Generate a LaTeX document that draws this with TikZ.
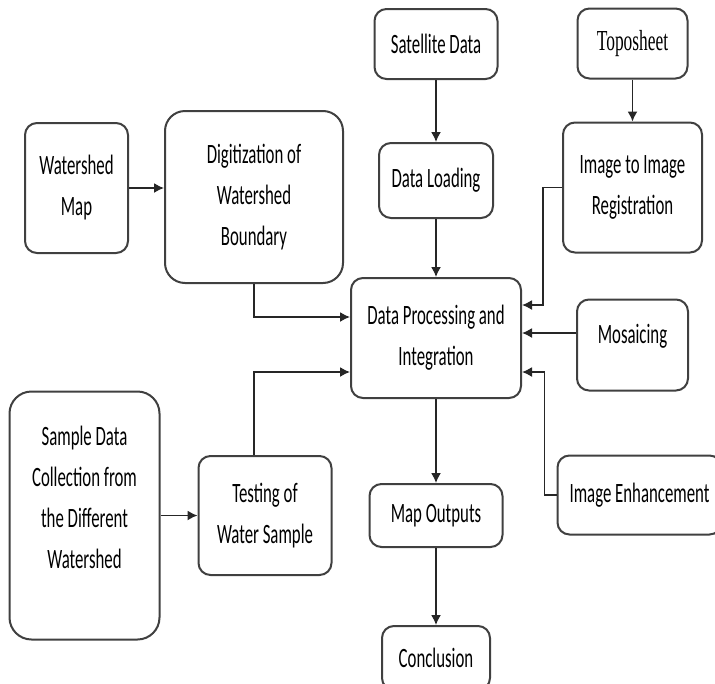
\documentclass[tikz,border=0pt]{standalone}
\usepackage{fontspec}
\setmainfont{Carlito}[FakeStretch=0.6]
\newfontfamily\toposerif{Liberation Serif}[FakeStretch=0.6]
\usepackage{tikz}
\usetikzlibrary{positioning}
\usetikzlibrary{arrows.meta}

\begin{document}
\begin{tikzpicture}[x=1pt,y=1pt,>={Latex[length=10pt,width=10pt]},
	block/.style={draw=black!75, line width=2pt, rounded corners=12pt, fill=white,
		align=center, inner sep=0pt, font=\fontsize{28}{41}\selectfont},
	flow/.style={->, line width=1.5pt, black!85}]

		\useasboundingbox (0,0) rectangle (715,-683);
		\clip (0,0) rectangle (715,-683);

		% processing column
		\node (dp) [block, minimum width=170pt, minimum height=120pt] at (436,-338) {Data Processing and\\Integration};
		\node (load) [block, minimum width=114pt, minimum height=75pt, above = 58pt of dp] {Data Loading};
		\node (sat) [block, minimum width=123pt, minimum height=70pt, above = 62pt of load] {Satellite Data};
		\node (out) [block, minimum width=133pt, minimum height=63pt, below = 84pt of dp] {Map Outputs};
		\node (concl) [block, minimum width=108pt, minimum height=64pt, below = 77pt of out] {Conclusion};

		% image side
		\node (mos) [block, minimum width=111pt, minimum height=91pt, right = 54pt of dp, yshift=-7pt] {Mosaicing\\[-18pt]\mbox{}};
		\node (reg) [block, minimum width=139pt, minimum height=130pt, above = 45pt of mos] {Image to Image\\Registration};
		\node (topo) [block, minimum width=110pt, minimum height=70pt, above = 42pt of reg,
			font=\toposerif\fontsize{29}{41}\selectfont] {Toposheet};
		\node (enh) [block, minimum width=164pt, minimum height=79pt, below = 63pt of mos, xshift=7pt] {Image Enhancement};

		% watershed side
		\node (digit) [block, minimum width=178pt, minimum height=172pt, rounded corners=20pt,
			above left = -7pt and 6pt of dp] {Digitization of\\Watershed\\Boundary};
		\node (wmap) [block, minimum width=103pt, minimum height=130pt, left = 35pt of digit, yshift=9pt] {Watershed\\Map};
		\node (test) [block, minimum width=133pt, minimum height=119pt, left = 36pt of out] {Testing of\\Water Sample};
		\node (sdc) [block, minimum width=150pt, minimum height=248pt, rounded corners=22pt,
			left = 37pt of test] {Sample Data\\Collection from\\the Different\\Watershed\\[-5pt]\mbox{}};

		\draw [flow] (sat) -- (load);
		\draw [flow] (load) -- (dp);
		\draw [flow] (dp) -- (out);
		\draw [flow] (out) -- (concl);
		\draw [flow] (topo) -- (reg);

		\draw [flow] (wmap) -- (wmap -| digit.west);
		\draw [flow] (digit.south) |- ([yshift=21pt]dp.west);
		\draw [flow] (test.north -| digit.south) |- ([yshift=-34pt]dp.west);
		\draw [flow] (sdc) -- (test);

		\draw [flow] (reg.west) -- ++(-19,0) |- ([yshift=33pt]dp.east);
		\draw [flow] ([yshift=12pt]mos.west) -- ([yshift=12pt]mos.west -| dp.east);
		\draw [flow] (enh.west) -- ++(-12,0) |- ([yshift=-34pt]dp.east);
	\end{tikzpicture}
\end{document}
